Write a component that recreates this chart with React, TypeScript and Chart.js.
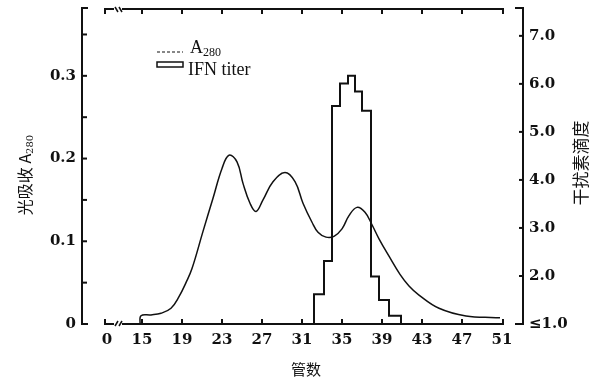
import React, { useEffect, useRef } from "react";
import { Chart, registerables } from "chart.js";

Chart.register(...registerables);

// ---- data ----
const a280Tube = [14.8, 14.9, 15.9, 16.9, 17.9, 18.7, 19.4, 20.0, 21.1, 22.1, 23.0, 23.7, 24.5, 25.1, 25.8, 26.4, 27.1, 28.1, 29.3, 30.3, 31.1, 32.0, 32.6, 33.4, 34.2, 35.0, 35.7, 36.5, 37.3, 38.0, 38.7, 39.7, 40.8, 41.7, 42.7, 44.7, 47.4, 50.4, 50.8];
const a280Values = [0, 0.01, 0.011, 0.013, 0.019, 0.033, 0.05, 0.067, 0.112, 0.152, 0.188, 0.204, 0.196, 0.17, 0.146, 0.136, 0.15, 0.172, 0.183, 0.172, 0.146, 0.123, 0.111, 0.105, 0.106, 0.115, 0.131, 0.141, 0.135, 0.12, 0.103, 0.082, 0.06, 0.046, 0.035, 0.019, 0.0097, 0.0077, 0.0075];

const titerEdges = [32.2, 33.2, 34.0, 34.8, 35.6, 36.3, 37.0, 37.9, 38.7, 39.7, 40.9, 41.9];
const titerValues = [1.29, 1.62, 2.31, 5.54, 6.01, 6.17, 5.84, 5.44, 1.99, 1.5, 1.17];
const titerBase = 1.0;

const xTickValues = [11.5, 15, 19, 23, 27, 31, 35, 39, 43, 47, 51];
const xTickLabels = ["0", "15", "19", "23", "27", "31", "35", "39", "43", "47", "51"];
const leftTickValues = [0, 0.1, 0.2, 0.3];
const leftTickLabels = ["0", "0.1", "0.2", "0.3"];
const leftMinorTicks = [0.05, 0.15, 0.25, 0.35];
const rightTickValues = [1, 2, 3, 4, 5, 6, 7];
const rightTickLabels = ["≤1.0", "2.0", "3.0", "4.0", "5.0", "6.0", "7.0"];

const seriesA280 = { main: "A", sub: "280" };
const seriesTiter = "IFN titer";
const xTitle = "管数";
const leftTitle = { main: "光吸收 A", sub: "280" };
const rightTitle = "干扰素滴度";

const SERIF = "'DejaVu Serif', 'Liberation Serif', serif";
const TIMES = "'Liberation Serif', serif";
const CJK = "'Noto Sans CJK SC', sans-serif";

function seg(ctx: CanvasRenderingContext2D, x1: number, y1: number, x2: number, y2: number) {
  ctx.beginPath();
  ctx.moveTo(x1, y1);
  ctx.lineTo(x2, y2);
  ctx.stroke();
}

const framePlugin = {
  id: "frame",
  afterDraw(chart: any) {
    const { ctx, chartArea: ca, scales } = chart;
    const x = scales.x, yA = scales.yA, yB = scales.yB;
    const L = ca.left, R = ca.right, T = ca.top, B = ca.bottom;
    const lx = L - 22, rx = R + 19;
    ctx.save();
    ctx.strokeStyle = "#111";
    ctx.lineWidth = 2;

    // left axis
    seg(ctx, lx, T, lx, B);
    seg(ctx, lx - 1, T, lx + 6, T);
    seg(ctx, lx - 1, B, lx + 6, B);
    [...leftTickValues.slice(1), ...leftMinorTicks].forEach((v) => {
      const py = yA.getPixelForValue(v);
      seg(ctx, lx, py, lx + 5, py);
    });

    // right axis
    seg(ctx, rx, T, rx, B);
    seg(ctx, rx - 8, T, rx + 1, T);
    seg(ctx, rx - 8, B, rx + 1, B);
    rightTickValues.slice(1).forEach((v) => {
      const py = yB.getPixelForValue(v);
      seg(ctx, rx - 4, py, rx, py);
    });

    // bottom & top axes with break
    const drawH = (yy: number, dir: number) => {
      seg(ctx, L + 1, yy, L + 1, yy - 5 * dir);
      seg(ctx, L, yy, L + 10, yy);
      ctx.lineWidth = 1.5;
      seg(ctx, L + 11, yy + 2 * dir, L + 14, yy - 3 * dir);
      seg(ctx, L + 15, yy + 2 * dir, L + 18, yy - 3 * dir);
      ctx.lineWidth = 2;
      seg(ctx, L + 18, yy, R, yy);
      seg(ctx, R - 1, yy, R - 1, yy - 5 * dir);
      xTickValues.slice(1, -1).forEach((v) => {
        const px = x.getPixelForValue(v);
        seg(ctx, px, yy, px, yy - 5 * dir);
      });
    };
    drawH(B, 1);
    drawH(T + 1, -1);

    // legend
    ctx.lineWidth = 1.2;
    ctx.setLineDash([3, 2]);
    seg(ctx, 157, 52, 183, 52);
    ctx.setLineDash([]);
    ctx.lineWidth = 1.5;
    ctx.strokeRect(157, 62, 26, 5);
    ctx.fillStyle = "#111";
    ctx.textAlign = "left";
    ctx.textBaseline = "alphabetic";
    ctx.font = `18px ${TIMES}`;
    ctx.fillText(seriesA280.main, 190, 53);
    const aw = ctx.measureText(seriesA280.main).width;
    ctx.font = `12px ${TIMES}`;
    ctx.fillText(seriesA280.sub, 190 + aw, 56);
    ctx.font = `18px ${TIMES}`;
    ctx.fillText(seriesTiter, 188, 75);

    // x title
    ctx.font = `15px ${CJK}`;
    ctx.textAlign = "center";
    ctx.textBaseline = "middle";
    ctx.fillText(xTitle, 306, 369);

    // left title (rotated, bottom-to-top, with subscript)
    ctx.save();
    ctx.translate(25, 175);
    ctx.rotate(-Math.PI / 2);
    ctx.textAlign = "left";
    ctx.textBaseline = "middle";
    ctx.font = `16px ${CJK}`;
    const mw = ctx.measureText(leftTitle.main).width;
    ctx.font = `10px ${SERIF}`;
    const sw = ctx.measureText(leftTitle.sub).width;
    const start = -(mw + sw) / 2;
    ctx.font = `16px ${CJK}`;
    ctx.fillText(leftTitle.main, start, 0);
    ctx.font = `10px ${SERIF}`;
    ctx.fillText(leftTitle.sub, start + mw, 5);
    ctx.restore();

    // right title
    ctx.save();
    ctx.translate(581, 163);
    ctx.rotate(-Math.PI / 2);
    ctx.textAlign = "center";
    ctx.textBaseline = "middle";
    ctx.font = `17px ${CJK}`;
    ctx.fillText(rightTitle, 0, 0);
    ctx.restore();

    ctx.restore();
  },
};

const noPad = (s: any) => {
  s.paddingTop = 0;
  s.paddingBottom = 0;
  s.paddingLeft = 0;
  s.paddingRight = 0;
};

export default function App() {
  const ref = useRef<HTMLCanvasElement>(null);
  useEffect(() => {
    if (!ref.current) return;
    const a280Data = a280Tube.map((t, i) => ({ x: t, y: a280Values[i] }));
    const titerData = [
      { x: titerEdges[0], y: titerBase },
      ...titerValues.map((v, i) => ({ x: titerEdges[i], y: v })),
      { x: titerEdges[titerEdges.length - 1], y: titerBase },
    ];
    const tickFont = { family: SERIF, size: 15, weight: "bold" as const };
    const chart = new Chart(ref.current, {
      type: "line",
      data: {
        datasets: [
          {
            label: "A280",
            data: a280Data,
            yAxisID: "yA",
            borderColor: "#111",
            borderWidth: 1.5,
            pointRadius: 0,
            tension: 0.4,
            fill: false,
            clip: 6,
          },
          {
            label: seriesTiter,
            data: titerData,
            yAxisID: "yB",
            borderColor: "#111",
            borderWidth: 2,
            pointRadius: 0,
            stepped: "after",
            fill: false,
            clip: 6,
          },
        ],
      },
      options: {
        responsive: false,
        animation: false,
        events: [],
        layout: { padding: { top: 8, left: 0, right: 0, bottom: 0 } },
        plugins: { legend: { display: false }, tooltip: { enabled: false } },
        scales: {
          x: {
            type: "linear",
            min: 11.2,
            max: 51.2,
            grid: { display: false, drawTicks: false },
            border: { display: false },
            afterBuildTicks: (s: any) => {
              s.ticks = xTickValues.map((v) => ({ value: v }));
            },
            afterFit: (s: any) => {
              s.height = 57;
              noPad(s);
            },
            ticks: {
              autoSkip: false,
              maxRotation: 0,
              padding: 7,
              color: "#111",
              font: tickFont,
              callback: (_v: any, i: number) => xTickLabels[i],
            },
          },
          yA: {
            type: "linear",
            position: "left",
            min: 0,
            max: 0.382,
            grid: { display: false, drawTicks: false },
            border: { display: false },
            afterBuildTicks: (s: any) => {
              s.ticks = leftTickValues.map((v) => ({ value: v }));
            },
            afterFit: (s: any) => {
              s.width = 104;
              noPad(s);
            },
            ticks: {
              padding: 28,
              color: "#111",
              font: tickFont,
              callback: (_v: any, i: number) => leftTickLabels[i],
            },
          },
          yB: {
            type: "linear",
            position: "right",
            min: 1,
            max: 7.58,
            grid: { display: false, drawTicks: false },
            border: { display: false },
            afterBuildTicks: (s: any) => {
              s.ticks = rightTickValues.map((v) => ({ value: v }));
            },
            afterFit: (s: any) => {
              s.width = 96;
              noPad(s);
            },
            ticks: {
              padding: 25,
              color: "#111",
              font: tickFont,
              callback: (_v: any, i: number) => rightTickLabels[i],
            },
          },
        },
      },
      plugins: [framePlugin],
    });
    return () => chart.destroy();
  }, []);
  return (
    <div style={{ position: "fixed", left: 0, top: 0, width: 600, height: 381, background: "#fff" }}>
      <canvas ref={ref} width={600} height={381} style={{ display: "block" }} />
    </div>
  );
}
